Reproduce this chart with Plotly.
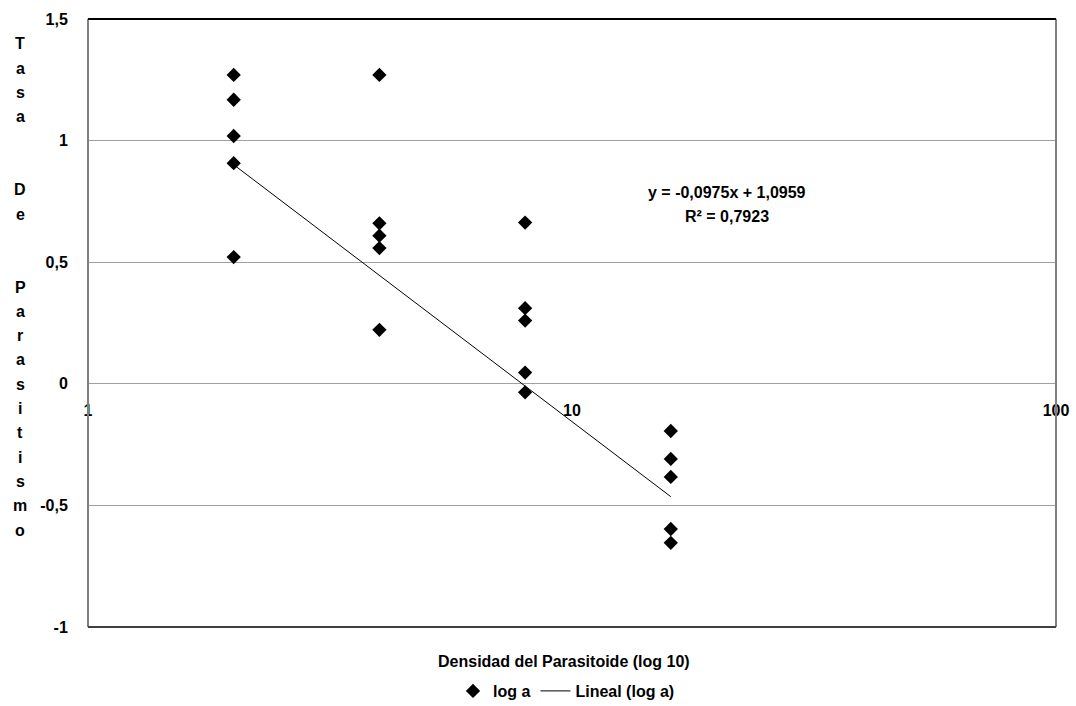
import plotly.graph_objects as go

# ---- data ----
densidad = [2, 2, 2, 2, 2,
            4, 4, 4, 4, 4,
            8, 8, 8, 8, 8,
            16, 16, 16, 16, 16]
log_a = [1.270, 1.168, 1.019, 0.907, 0.521,
         1.270, 0.660, 0.609, 0.558, 0.222,
         0.663, 0.311, 0.260, 0.046, -0.035,
         -0.194, -0.309, -0.383, -0.597, -0.654]
slope = -0.0975
intercept = 1.0959
r2 = 0.7923
y_tickvals = [-1, -0.5, 0, 0.5, 1, 1.5]
y_ticktext = ["-1", "-0,5", "0", "0,5", "1", "1,5"]
x_tickvals = [1, 10, 100]
x_ticktext = ["1", "10", "100"]
y_title = ["T", "a", "s", "a", "", "", "D", "e", "", "", "P", "a", "r", "a", "s",
           "i", "t", "i", "s", "m", "o"]
x_title = "Densidad del Parasitoide (log 10)"

fit_x = [min(densidad), max(densidad)]
fit_y = [slope * v + intercept for v in fit_x]

FONT = "Liberation Sans, Arial, sans-serif"
FS = 16

fig = go.Figure()
fig.add_trace(go.Scatter(
    x=densidad, y=log_a, mode="markers", name="log a",
    marker=dict(symbol="diamond", size=11, color="black", line=dict(width=0)),
))
fig.add_trace(go.Scatter(
    x=fit_x, y=fit_y, mode="lines", name="Lineal (log a)",
    line=dict(color="black", width=1),
))

W, H = 1076, 706
ML, MR, MT, MB = 88, 20, 19, 79
PW = W - ML - MR
PH = H - MT - MB

fig.update_layout(
    width=W, height=H,
    margin=dict(l=ML, r=MR, t=MT, b=MB, autoexpand=False),
    paper_bgcolor="white", plot_bgcolor="white",
    font=dict(family=FONT, size=FS, color="black", weight="bold"),
    showlegend=True,
    legend=dict(orientation="h", xref="paper", x=(453 - ML) / PW, xanchor="left",
                yref="container", y=1 - 691 / H, yanchor="middle",
                font=dict(family=FONT, size=FS, color="black", weight="bold"),
                bgcolor="rgba(0,0,0,0)", itemwidth=30, tracegroupgap=0),
    xaxis=dict(type="log", range=[0, 2], tickvals=x_tickvals, ticktext=x_ticktext,
               showgrid=False, zeroline=False, showline=False,
               anchor="free", position=0.4, automargin=False,
               ticks="outside", ticklen=12, tickcolor="rgba(0,0,0,0)",
               tickfont=dict(family=FONT, size=FS, color="black", weight="bold")),
    yaxis=dict(range=[-1, 1.5], tickvals=y_tickvals, ticktext=y_ticktext,
               showgrid=True, gridcolor="#a0a0a0", gridwidth=1,
               zeroline=False, showline=False, automargin=False,
               ticks="outside", ticklen=16, tickcolor="rgba(0,0,0,0)",
               tickfont=dict(family=FONT, size=FS, color="black", weight="bold")),
)

# plot-area border
fig.add_shape(type="line", xref="paper", yref="paper", x0=0, x1=0, y0=0, y1=1,
              line=dict(color="#808080", width=2))
fig.add_shape(type="line", xref="paper", yref="paper", x0=1, x1=1, y0=0, y1=1,
              line=dict(color="#808080", width=2))
fig.add_shape(type="line", xref="paper", yref="paper", x0=0, x1=1, y0=1, y1=1,
              line=dict(color="black", width=2))
fig.add_shape(type="line", xref="paper", yref="paper", x0=0, x1=1, y0=0, y1=0,
              line=dict(color="#404040", width=2))

# equation annotation
eq_x = (727 - ML) / PW
fig.add_annotation(xref="paper", yref="y", x=eq_x, y=0.786, showarrow=False,
                   text=f"y = {str(slope).replace('.', ',')}x + {str(intercept).replace('.', ',')}",
                   font=dict(family=FONT, size=FS, color="black", weight="bold"),
                   xanchor="center", yanchor="middle")
fig.add_annotation(xref="paper", yref="y", x=eq_x, y=0.687, showarrow=False,
                   text=f"R² = {str(r2).replace('.', ',')}",
                   font=dict(family=FONT, size=FS, color="black", weight="bold"),
                   xanchor="center", yanchor="middle")

# x title
fig.add_annotation(xref="paper", yref="paper", x=(564 - ML) / PW,
                   y=(H - MB - 661) / PH, showarrow=False, text=x_title,
                   font=dict(family=FONT, size=FS, color="black", weight="bold"),
                   xanchor="center", yanchor="middle")

# vertical y title, one letter per line
for i, ch in enumerate(y_title):
    if not ch:
        continue
    ypix = 44 + i * 24.3
    fig.add_annotation(xref="paper", yref="paper", x=(20 - ML) / PW,
                       y=(H - MB - ypix) / PH, showarrow=False, text=ch,
                       font=dict(family=FONT, size=FS, color="black", weight="bold"),
                       xanchor="center", yanchor="middle")

fig.write_html("out.html")
